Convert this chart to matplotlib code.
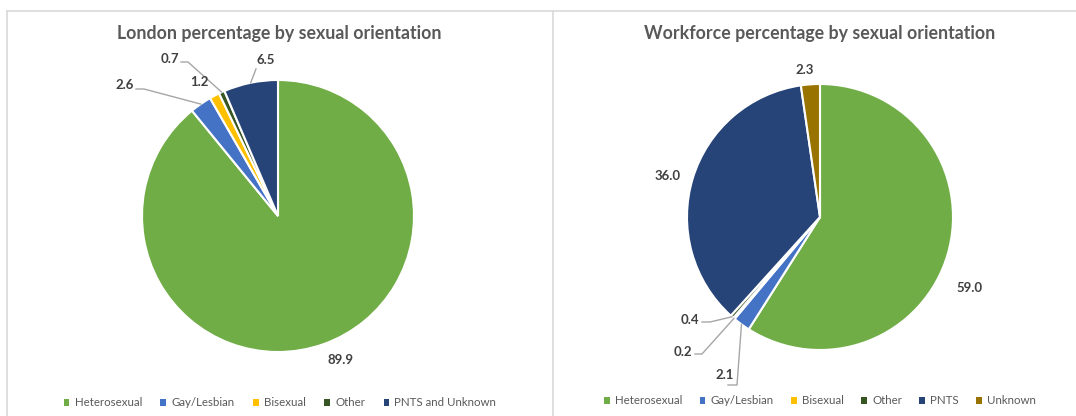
import numpy as np
import matplotlib
matplotlib.use("Agg")
import matplotlib.pyplot as plt
from matplotlib.lines import Line2D

# ---------------- data ----------------
london_title = "London percentage by sexual orientation"
london_labels = ["Heterosexual", "Gay/Lesbian", "Bisexual", "Other", "PNTS and Unknown"]
london_values = [89.9, 2.6, 1.2, 0.7, 6.5]

work_title = "Workforce percentage by sexual orientation"
work_labels = ["Heterosexual", "Gay/Lesbian", "Bisexual", "Other", "PNTS", "Unknown"]
work_values = [59.0, 2.1, 0.2, 0.4, 36.0, 2.3]

london_colors = ["#70AD47", "#4472C4", "#FFC000", "#375623", "#264478"]
work_colors = ["#70AD47", "#4472C4", "#FFC000", "#375623", "#264478", "#997300"]

W, H = 1076, 416
FONT = ["Lato", "DejaVu Sans"]
TXT = "#595959"
LBL = "#404040"

fig = plt.figure(figsize=(W / 100, H / 100), dpi=100)
ax = fig.add_axes([0, 0, 1, 1])


def py(y):  # top-origin pixel -> axis y
    return H - y


# panel borders
border = "#D9D9D9"
ax.add_line(Line2D([6.5, 6.5], [py(416), py(10.5)], color=border, lw=1.2))
ax.add_line(Line2D([552.5, 552.5], [py(416), py(10.5)], color=border, lw=1.2))
ax.add_line(Line2D([6.5, W], [py(10.5), py(10.5)], color=border, lw=1.2))

# pies
pies = [
    dict(values=london_values, colors=london_colors, labels=london_labels, title=london_title,
         cx=278, cy=216, r=136, tx=279, ty=34,
         # label layout: (text x, text y, leader polyline or None)
         lab=[(340, 360, None),
              (125, 85, [(136, 89), (144, 89)]),
              (199, 82, None),
              (170, 59, [(181, 62), (188, 62)]),
              (266, 60, [(256, 69)])],
         leg_y=403, leg_x=280, leg_sp=1.6),
    dict(values=work_values, colors=work_colors, labels=work_labels, title=work_title,
         cx=820, cy=217, r=133, tx=820, ty=34,
         lab=[(970, 288, None),
              (725, 375, [(728, 385), (737, 385)]),
              (683, 352, [(695, 354), (702, 354)]),
              (690, 320, [(702, 322), (710, 322)]),
              (668, 176, None),
              (805, 70, None)],
         leg_y=401, leg_x=820, leg_sp=1.5),
]

for p in pies:
    vals = np.array(p["values"], dtype=float)
    wedges, _ = ax.pie(vals, colors=p["colors"], startangle=90, counterclock=False,
                       center=(p["cx"], py(p["cy"])), radius=p["r"], frame=True,
                       wedgeprops=dict(edgecolor="white", linewidth=1.5))
    # data labels
    for w, v, (lx, ly, lead) in zip(wedges, vals, p["lab"]):
        mid = np.deg2rad((w.theta1 + w.theta2) / 2)
        wx = p["cx"] + p["r"] * np.cos(mid)
        wy = py(p["cy"]) + p["r"] * np.sin(mid)
        ax.text(lx, py(ly), f"{v:.1f}", ha="center", va="center", fontsize=9.5,
                fontweight="bold", color=LBL, family=FONT)
        if lead is not None:
            xs = [q[0] for q in lead] + [wx]
            ys = [py(q[1]) for q in lead] + [wy]
            ax.add_line(Line2D(xs, ys, color="#A6A6A6", lw=1.0))
    ax.text(p["tx"], py(p["ty"]), p["title"], ha="center", va="center", fontsize=12.8,
            fontweight="bold", color=TXT, family=FONT)
    leg = fig.legend(wedges, p["labels"], loc="center", ncol=len(vals), frameon=False,
                     bbox_to_anchor=(p["leg_x"] / W, 1 - p["leg_y"] / H),
                     handlelength=0.5, handleheight=0.5, handletextpad=0.45,
                     columnspacing=p["leg_sp"], prop=dict(family=FONT, size=8.3))
    for t in leg.get_texts():
        t.set_color(TXT)
    for h in leg.legend_handles:
        h.set_edgecolor("none")

ax.set_xlim(0, W)
ax.set_ylim(0, H)
ax.set_aspect("equal")
ax.axis("off")

fig.savefig("out.png", dpi=100)
